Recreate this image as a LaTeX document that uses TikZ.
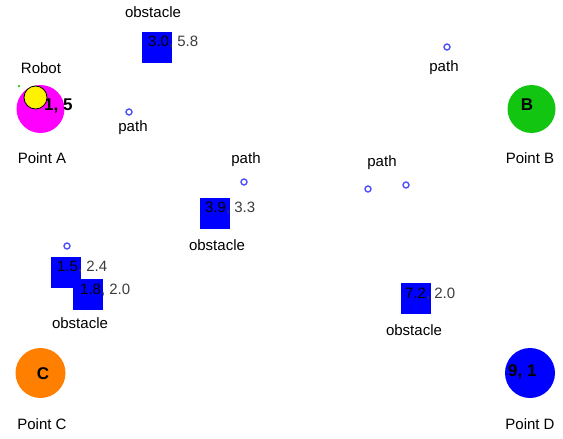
\documentclass[tikz,border=0pt]{standalone}
\usepackage{fontspec}
\setmainfont{Liberation Sans}
\definecolor{pathblue}{HTML}{5050FF}
\definecolor{ptgreen}{HTML}{11C511}
\definecolor{ptorange}{HTML}{FF8000}
\definecolor{ptmagenta}{HTML}{FF00FF}
\definecolor{ptblue}{HTML}{0000FF}
\definecolor{numgray}{HTML}{3C3C3C}
\newcommand{\xyval}[2]{\textcolor{black}{#1}, #2}
\begin{document}
\begin{tikzpicture}[x=1pt,y=-1pt,
  lbl/.style={inner sep=0pt,font=\fontsize{15}{18}\selectfont},
  obst/.style={fill=ptblue,draw=none,minimum width=30pt,minimum height=31pt,inner sep=0pt},
  coord/.style={anchor=west,inner sep=0pt,text=numgray,font=\fontsize{15}{18}\selectfont},
  waypt/.style={circle,draw=pathblue,line width=1.4pt,minimum size=6pt,inner sep=0pt},
  goaltext/.style={inner sep=0pt,font=\fontsize{17}{20}\selectfont\bfseries}]
\useasboundingbox (0,0) rectangle (563,439);

% obstacles
\node[obst] (o1) at (157,47.5) {};
\node[coord] (o1t) at (148,42) {\xyval{3.0}{5.8}};
\node[lbl] (o1l) at (153,12) {obstacle};

\node[obst] (o2) at (215,213) {};
\node[coord] (o2t) at (205,208) {\xyval{3.9}{3.3}};
\node[lbl] (o2l) at (217,245) {obstacle};

\node[obst] (o3) at (66,272.5) {};
\node[obst] (o4) at (88,294) {};
\node[coord] (o3t) at (57,267) {\xyval{1.5}{2.4}};
\node[coord] (o4t) at (80,290) {\xyval{1.8}{2.0}};
\node[lbl] (o34l) at (80,323) {obstacle};

\node[obst] (o5) at (415.5,298) {};
\node[coord] (o5t) at (405,294) {\xyval{7.2}{2.0}};
\node[lbl] (o5l) at (414,330) {obstacle};

% path waypoints
\node[waypt] (w1) at (129,112) {};
\node[lbl] (w1l) at (133,128) {path};
\node[waypt] (w2) at (447,47) {};
\node[lbl] (w2l) at (444,68) {path};
\node[waypt] (w3) at (244,182) {};
\node[lbl] (w3l) at (246,160) {path};
\node[waypt] (w4) at (368,189) {};
\node[waypt] (w5) at (406,185) {};
\node[lbl] (w45l) at (382,163) {path};
\node[waypt] (w6) at (67,246) {};

% point A with the robot
\node[circle,fill=ptmagenta,minimum width=46pt,minimum height=48pt,inner sep=0pt] (pa) at (40.5,109) {};
\node[goaltext,anchor=west] (pat) at (44,106) {1, 5};
\node[circle,fill=yellow,draw=black,line width=0.8pt,minimum size=23pt,inner sep=0pt] (robot) at (35.5,97.5) {};
\node[circle,fill=ptgreen,minimum size=2.5pt,inner sep=0pt] (rdot) at (19,86) {};
\node[lbl] (robotl) at (41,68) {Robot};
\node[lbl] (pal) at (42,158) {Point A};

% point B
\node[circle,fill=ptgreen,minimum width=44pt,minimum height=48pt,inner sep=0pt] (pb) at (531.5,109) {};
\node[goaltext] (pbt) at (527,105) {B};
\node[lbl] (pbl) at (530,158) {Point B};

% point C
\node[circle,fill=ptorange,minimum width=45pt,minimum height=50pt,inner sep=0pt] (pc) at (40.5,373) {};
\node[goaltext] (pct) at (43,373.5) {C};
\node[lbl] (pcl) at (42,424) {Point C};

% point D
\node[circle,fill=ptblue,minimum width=46pt,minimum height=50pt,inner sep=0pt] (pd) at (530,373) {};
\node[goaltext,anchor=west] (pdt) at (508,372) {9, 1};
\node[lbl] (pdl) at (530,424) {Point D};
\end{tikzpicture}
\end{document}
